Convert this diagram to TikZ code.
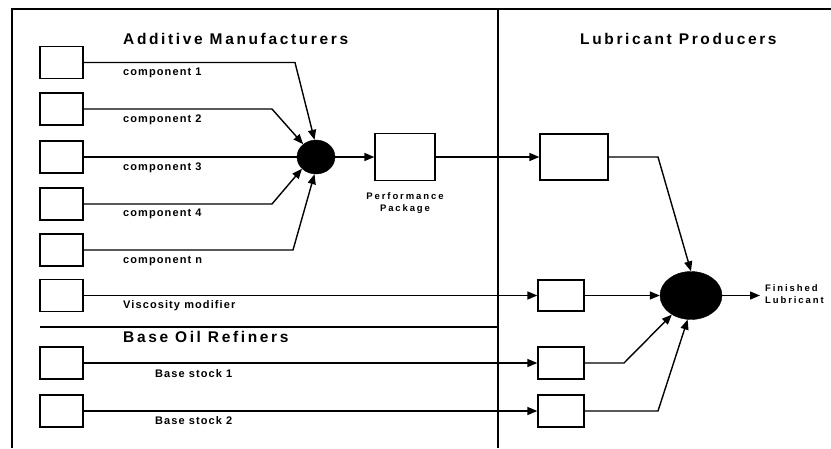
\documentclass[tikz,border=0pt]{standalone}
\usepackage{fontspec}
\setmainfont{Liberation Sans}
\newfontfamily\ttlfont{Liberation Sans}[LetterSpace=17]
\newfontfamily\labfont{Liberation Sans}[LetterSpace=10]
\newfontfamily\smfont{Liberation Sans}[LetterSpace=20]
\usetikzlibrary{shapes.geometric,arrows.meta}
\begin{document}
\begin{tikzpicture}[x=1pt,y=-1pt,
  box/.style={draw,line width=1.3pt,minimum width=43pt,minimum height=32pt,inner sep=0pt},
  mixer/.style={ellipse,fill=black,draw,inner sep=0pt},
  flow/.style={line width=1.4pt},
  arr/.style={flow,-{Triangle[length=10pt,width=8pt]}},
  ttl/.style={font=\ttlfont\bfseries\fontsize{15.5}{18}\selectfont,anchor=base west,inner sep=0pt},
  lab/.style={font=\labfont\bfseries\fontsize{11}{12}\selectfont,anchor=base west,inner sep=0pt},
  sm/.style={font=\smfont\bfseries\fontsize{9.5}{12.5}\selectfont,inner sep=0pt},
  frame/.style={line width=1.5pt}
  ]
\useasboundingbox (0,0) rectangle (831,448);
% frame
\draw[frame] (12,448) -- (12,9) -- (831,9);
\draw[frame] (498,9) -- (498,448);
\draw[frame] (40,327) -- (498,327);
% source boxes
\node[box] (c1) at (61.5,62.5) {};
\node[box] (c2) at (61.5,109) {};
\node[box] (c3) at (61.5,157) {};
\node[box] (c4) at (61.5,204) {};
\node[box] (cn) at (61.5,250) {};
\node[box] (vs) at (61.5,295.5) {};
\node[box] (bs1) at (61.5,363) {};
\node[box] (bs2) at (61.5,411) {};
% mixers and boxes
\node[mixer,minimum width=38pt,minimum height=34pt] (mix) at (316,157) {};
\node[box,minimum width=60pt,minimum height=47pt] (pp) at (405,157) {};
\node[box,minimum width=68pt,minimum height=46pt] (lp) at (574,157) {};
\node[box,minimum width=46pt,minimum height=31pt] (v) at (561,295.5) {};
\node[box,minimum width=46pt] (b1) at (561,363) {};
\node[box,minimum width=46pt] (b2) at (561,411) {};
\node[mixer,minimum width=62pt,minimum height=48pt] (lub) at (691,295.5) {};
\coordinate (fin) at (760,295.5);
% connectors
\draw[arr] (c1.east) -- (295,62.5) -- (mix.95);
\draw[arr] (c2.east) -- (272,109) -- (mix.135);
\draw[flow] (c3.east) -- (mix.west);
\draw[arr] (c4.east) -- (272,204) -- (mix.220);
\draw[arr] (cn.east) -- (293,250) -- (mix.265);
\draw[arr] (mix.east) -- (pp.west);
\draw[arr] (pp.east) -- (lp.west);
\draw[arr] (lp.east) -- (658,157) -- (lub.north);
\draw[arr] (vs.east) -- (v.west);
\draw[arr] (v.east) -- (lub.west);
\draw[arr] (bs1.east) -- (b1.west);
\draw[arr] (b1.east) -- (624,363) -- (lub.225);
\draw[arr] (bs2.east) -- (b2.west);
\draw[arr] (b2.east) -- (658,411) -- (lub.262);
\draw[arr] (lub.east) -- (fin);
% titles
\node[ttl] (t1) at (123,44) {Additive Manufacturers};
\node[ttl] (t2) at (580,44) {Lubricant Producers};
\node[ttl] (t3) at (123,342) {Base Oil Refiners};
% labels
\node[lab] (l1) at (123,75) {component 1};
\node[lab] (l2) at (123,122) {component 2};
\node[lab] (l3) at (123,170) {component 3};
\node[lab] (l4) at (123,216) {component 4};
\node[lab] (ln) at (123,263) {component n};
\node[lab] (lv) at (123,308) {Viscosity modifier};
\node[lab] (lb1) at (155,377) {Base stock 1};
\node[lab] (lb2) at (155,424) {Base stock 2};
\node[sm,align=center] (lpp) at (405,203) {Performance\\Package};
\node[sm,align=left,anchor=west] (lfin) at (765,294) {Finished\\Lubricant};
\end{tikzpicture}
\end{document}
